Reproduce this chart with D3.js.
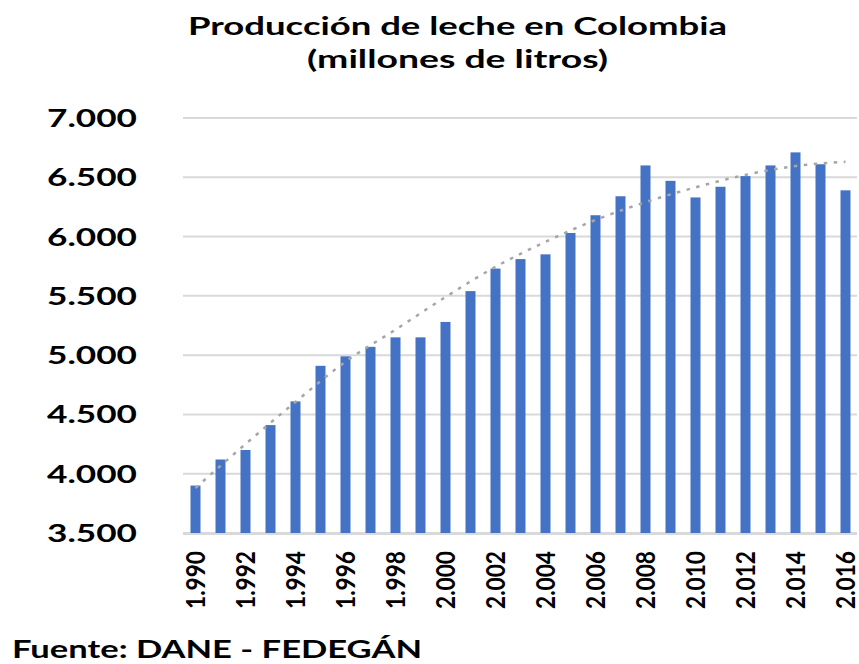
<!DOCTYPE html>
<html>
<head>
<meta charset="utf-8">
<script src="https://cdn.jsdelivr.net/npm/d3@7"></script>
<style>
  html, body { margin: 0; padding: 0; background: #fff; }
  svg { display: block; }
  text { font-family: Lato, "Open Sans", sans-serif; font-weight: 700; fill: #000; }
</style>
</head>
<body>
<svg id="chart" width="859" height="664"></svg>
<script>
const years = d3.range(1990, 2017);
const produccion = [3900, 4120, 4200, 4410, 4610, 4910, 4990, 5070, 5150, 5150,
  5280, 5540, 5730, 5810, 5850, 6030, 6180, 6340, 6600, 6470,
  6330, 6420, 6510, 6600, 6710, 6610, 6390];
const trendYears = [1990, 1992, 1994, 1996, 1998, 2000, 2002, 2004, 2006, 2008, 2010, 2012, 2014, 2016];
const trendValues = [3880, 4250, 4605, 4945, 5215, 5490, 5745, 5955, 6140, 6290, 6415, 6520, 6595, 6630];
const yTicks = [3500, 4000, 4500, 5000, 5500, 6000, 6500, 7000];
const xTickYears = [1990, 1992, 1994, 1996, 1998, 2000, 2002, 2004, 2006, 2008, 2010, 2012, 2014, 2016];
const titleLines = ["Producción de leche en Colombia", "(millones de litros)"];
const sourceText = "Fuente: DANE - FEDEGÁN";

const svg = d3.select("#chart");
const pLeft = 183, pRight = 858, pTop = 118, pBottom = 533;

const x = d3.scaleBand().domain(years).range([pLeft, pRight]).paddingInner(0.6).paddingOuter(0.3);
const y = d3.scaleLinear().domain([3500, 7000]).range([pBottom, pTop]);
const fmt = v => d3.format(",")(v).replace(/,/g, ".");

// gridlines
svg.append("g").selectAll("line").data(yTicks).join("line")
  .attr("x1", pLeft).attr("x2", pRight - 1)
  .attr("y1", d => y(d)).attr("y2", d => y(d))
  .attr("stroke", "#d9d9d9").attr("stroke-width", 2);

// y labels
svg.append("g").selectAll("text").data(yTicks).join("text")
  .attr("x", 137).attr("y", d => y(d) + 9)
  .attr("text-anchor", "end")
  .attr("font-size", 25)
  .attr("textLength", 90).attr("lengthAdjust", "spacingAndGlyphs")
  .text(d => fmt(d));

// bars
svg.append("g").selectAll("rect").data(years).join("rect")
  .attr("x", (d) => x(d))
  .attr("width", x.bandwidth())
  .attr("y", (d, i) => y(produccion[i]))
  .attr("height", (d, i) => y(3500) - y(produccion[i]))
  .attr("fill", "#4472c4");

// bottom axis line
svg.append("line").attr("x1", pLeft).attr("x2", pRight - 1)
  .attr("y1", pBottom + 1).attr("y2", pBottom + 1)
  .attr("stroke", "#d9d9d9").attr("stroke-width", 2);

// trend line
const line = d3.line()
  .x((d, i) => x(d) + x.bandwidth() / 2)
  .y((d, i) => y(trendValues[i]))
  .curve(d3.curveMonotoneX);
svg.append("path").datum(trendYears)
  .attr("d", line)
  .attr("fill", "none")
  .attr("stroke", "#a6a6a6")
  .attr("stroke-width", 2.5)
  .attr("stroke-dasharray", "3.5,6.5");

// x labels
svg.append("g").selectAll("text").data(xTickYears).join("text")
  .attr("transform", d => `translate(${x(d) + x.bandwidth() / 2 + 9},609) rotate(-90)`)
  .attr("text-anchor", "start")
  .attr("font-size", 27)
  .attr("textLength", 58).attr("lengthAdjust", "spacingAndGlyphs")
  .text(d => fmt(d));

// title
svg.append("text").attr("x", 457.5).attr("y", 35).attr("text-anchor", "middle")
  .attr("font-size", 24).attr("textLength", 539).attr("lengthAdjust", "spacingAndGlyphs")
  .text(titleLines[0]);
svg.append("text").attr("x", 457.5).attr("y", 68).attr("text-anchor", "middle")
  .attr("font-size", 24).attr("textLength", 301).attr("lengthAdjust", "spacingAndGlyphs")
  .text(titleLines[1]);

// source
svg.append("text").attr("x", 12).attr("y", 658)
  .attr("font-size", 24).attr("textLength", 410).attr("lengthAdjust", "spacingAndGlyphs")
  .text(sourceText);
</script>
</body>
</html>
